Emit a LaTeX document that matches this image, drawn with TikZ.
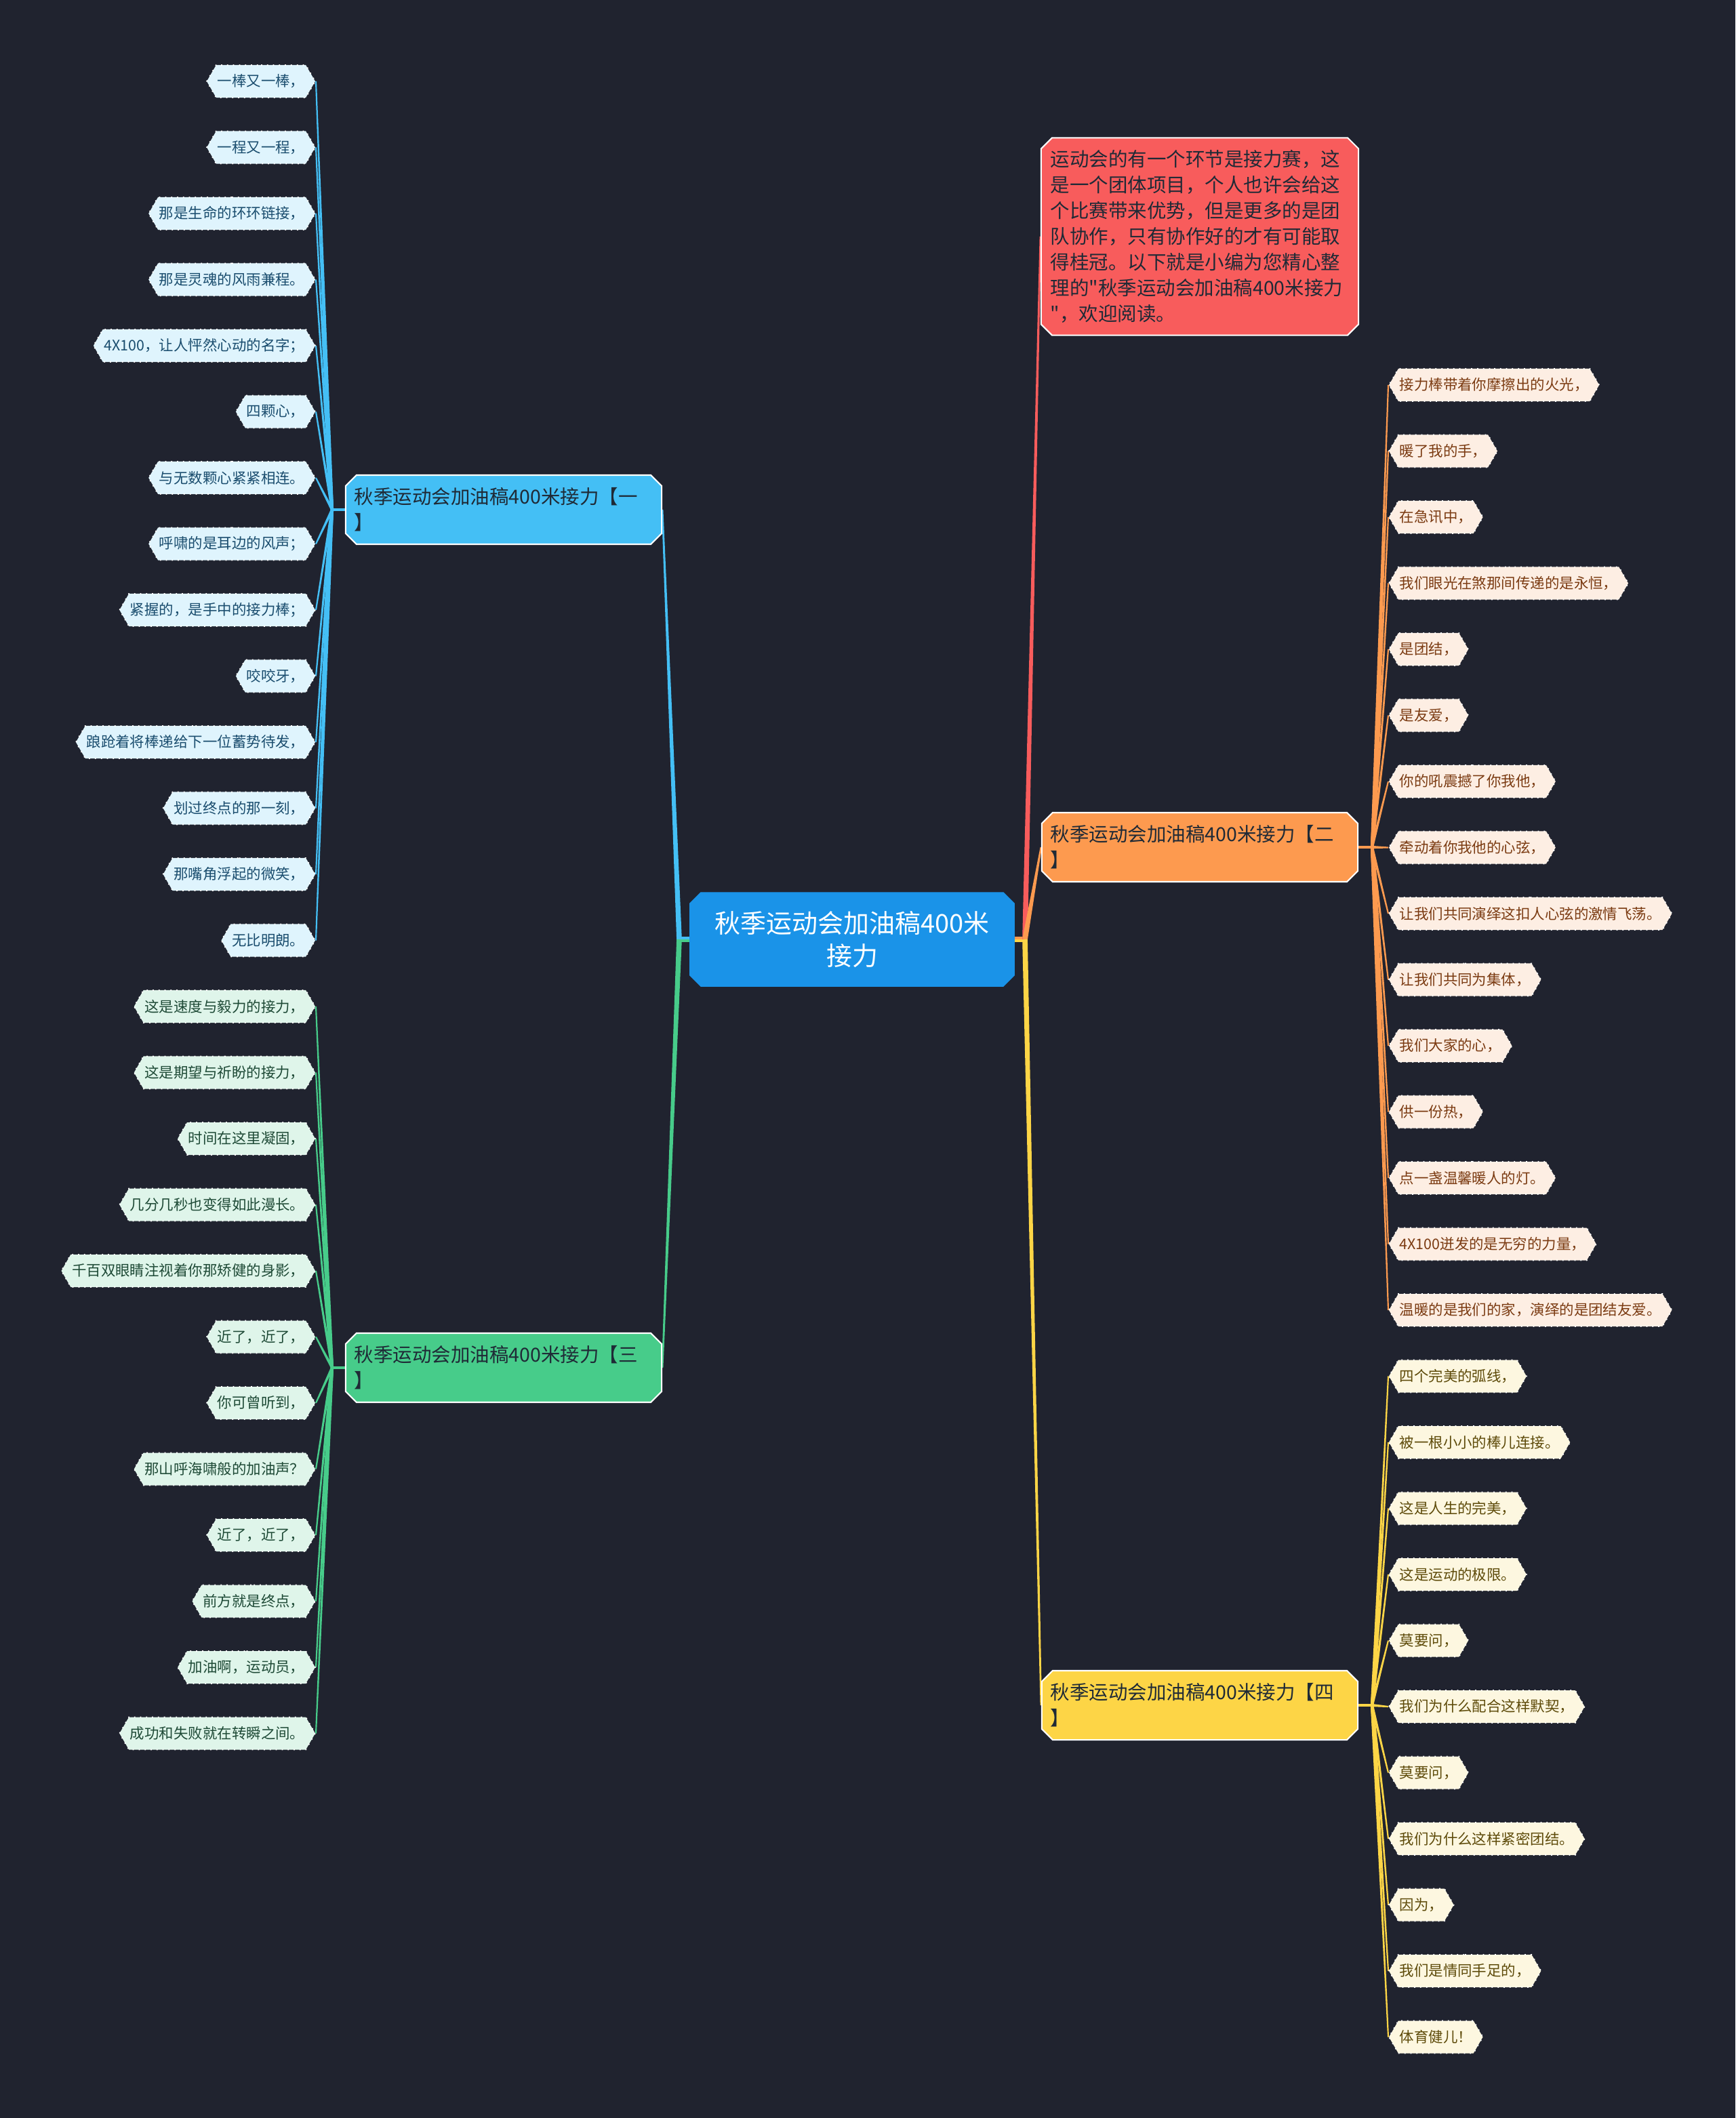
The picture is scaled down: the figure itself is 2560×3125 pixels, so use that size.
\documentclass[tikz,border=0pt]{standalone}
\usepackage{fontspec}
\setmainfont{Noto Sans CJK SC}[Ligatures=TeXOff]
\usetikzlibrary{shapes.misc,shapes.symbols,calc}
\definecolor{bgc}{HTML}{20232F}
\definecolor{rootc}{HTML}{1A93E8}
\definecolor{cblue}{HTML}{44BFF5}
\definecolor{cgreen}{HTML}{47CC8A}
\definecolor{corange}{HTML}{FD9A4F}
\definecolor{cyellow}{HTML}{FDD546}
\definecolor{cred}{HTML}{F85C5C}
\definecolor{lblue}{HTML}{DFF4FD}
\definecolor{lgreen}{HTML}{DFF5EA}
\definecolor{lorange}{HTML}{FDEEE3}
\definecolor{lyellow}{HTML}{FDF7E0}
\definecolor{tblue}{HTML}{1A4D6E}
\definecolor{tgreen}{HTML}{1E4A36}
\definecolor{torange}{HTML}{7B3B12}
\definecolor{tyellow}{HTML}{5E4B0A}
\definecolor{tdark}{HTML}{1F2A36}
\pgfdeclarelayer{bg}
\pgfdeclarelayer{conn}
\pgfsetlayers{bg,conn,main}
\newcommand\tconn[5]{%
  \fill[#1] ($(#2)!#4!90:(#3)$) -- ($(#3)!#5!-90:(#2)$) -- ($(#3)!#5!90:(#2)$) -- ($(#2)!#4!-90:(#3)$) -- cycle;}
\tikzset{
  leafbase/.style={signal, signal to=west and east, signal pointer angle=120,
    draw=white, dotted, line width=0.5pt, minimum height=0.48cm, inner xsep=0.5pt, inner ysep=0pt,
    font=\fontsize{6.1}{7}\selectfont},
  bleaf/.style={leafbase, fill=lblue, text=tblue, anchor=east},
  gleaf/.style={leafbase, fill=lgreen, text=tgreen, anchor=east},
  oleaf/.style={leafbase, fill=lorange, text=torange, anchor=west},
  yleaf/.style={leafbase, fill=lyellow, text=tyellow, anchor=west},
  branchbox/.style={chamfered rectangle, chamfered rectangle xsep=0.08cm, chamfered rectangle ysep=0.08cm,
    draw=white, line width=0.6pt, minimum width=4.66cm, minimum height=1.02cm, inner sep=0pt,
    text width=4.4cm, align=left, text=tdark, font=\fontsize{8.1}{10.8}\selectfont},
  rootbox/.style={chamfered rectangle, chamfered rectangle xsep=0.08cm, chamfered rectangle ysep=0.08cm,
    fill=rootc, draw=rootc, minimum width=4.78cm, minimum height=1.38cm, inner sep=0pt,
    align=center, text=white, font=\fontsize{10.8}{13.7}\selectfont},
}
\begin{document}
\begin{tikzpicture}[x=0.01cm,y=-0.01cm]
\useasboundingbox (0,0) rectangle (2560,3125);
\begin{pgfonlayer}{bg}
\fill[bgc] (0,0) rectangle (2560,3125);
\end{pgfonlayer}

% root and branches
\node[rootbox] (root) at (1257,1386) {秋季运动会加油稿400米\\接力};
\node[branchbox, fill=cblue] (b1) at (743,752) {秋季运动会加油稿400米接力【一\\】};
\node[branchbox, fill=cgreen] (b3) at (743,2018) {秋季运动会加油稿400米接力【三\\】};
\node[branchbox, fill=cred, minimum height=2.91cm, minimum width=4.68cm] (intro) at (1770,349)
  {运动会的有一个环节是接力赛，这\\是一个团体项目，个人也许会给这\\个比赛带来优势，但是更多的是团\\队协作，只有协作好的才有可能取\\得桂冠。以下就是小编为您精心整\\理的"秋季运动会加油稿400米接力\\"，欢迎阅读。};
\node[branchbox, fill=corange] (b2) at (1770,1250) {秋季运动会加油稿400米接力【二\\】};
\node[branchbox, fill=cyellow] (b4) at (1770,2516) {秋季运动会加油稿400米接力【四\\】};

\coordinate (rl) at (1002,1386);
\coordinate (rr) at (1512,1386);
\coordinate (f1) at (490,752);
\coordinate (f3) at (490,2018);
\coordinate (f2) at (2024,1250);
\coordinate (f4) at (2024,2516);

% leaves
\foreach \t [count=\i from 0] in {一棒又一棒，,一程又一程，,那是生命的环环链接，,那是灵魂的风雨兼程。,4X100，让人怦然心动的名字；,四颗心，,与无数颗心紧紧相连。,呼啸的是耳边的风声；,紧握的，是手中的接力棒；,咬咬牙，,踉跄着将棒递给下一位蓄势待发，,划过终点的那一刻，,那嘴角浮起的微笑，,无比明朗。}
  \node[bleaf] (la\i) at (466,{120+97.5*\i}) {\t};
\foreach \t [count=\i from 0] in {这是速度与毅力的接力，,这是期望与祈盼的接力，,时间在这里凝固，,几分几秒也变得如此漫长。,千百双眼睛注视着你那矫健的身影，,近了，近了，,你可曾听到，,那山呼海啸般的加油声？,近了，近了，,前方就是终点，,加油啊，运动员，,成功和失败就在转瞬之间。}
  \node[gleaf] (lc\i) at (466,{120+97.5*(\i+14)}) {\t};
\foreach \t [count=\i from 0] in {接力棒带着你摩擦出的火光，,暖了我的手，,在急讯中，,我们眼光在煞那间传递的是永恒，,是团结，,是友爱，,你的吼震撼了你我他，,牵动着你我他的心弦，,让我们共同演绎这扣人心弦的激情飞荡。,让我们共同为集体，,我们大家的心，,供一份热，,点一盏温馨暖人的灯。,4X100迸发的是无穷的力量，,温暖的是我们的家，演绎的是团结友爱。}
  \node[oleaf] (lb\i) at (2048,{568+97.5*\i}) {\t};
\foreach \t [count=\i from 0] in {四个完美的弧线，,被一根小小的棒儿连接。,这是人生的完美，,这是运动的极限。,莫要问，,我们为什么配合这样默契，,莫要问，,我们为什么这样紧密团结。,因为，,我们是情同手足的，,体育健儿！}
  \node[yleaf] (ld\i) at (2048,{568+97.5*(\i+15)}) {\t};

% connectors
\begin{pgfonlayer}{conn}
\tconn{cblue}{root.west}{rl}{1.1pt}{1.1pt}
\tconn{cgreen}{root.west}{rl}{1.1pt}{1.1pt}
\fill[cblue] (root.west) rectangle ($(rl)+(0,-4)$);
\tconn{corange}{root.east}{rr}{1.1pt}{1.1pt}
\fill[cyellow] (root.east) rectangle ($(rr)+(0,4)$);
\tconn{cblue}{rl}{b1.east}{1.1pt}{0.35pt}
\tconn{cgreen}{rl}{b3.east}{1.1pt}{0.35pt}
\tconn{cred}{rr}{intro.west}{1.1pt}{0.35pt}
\tconn{corange}{rr}{b2.west}{1.1pt}{0.35pt}
\tconn{cyellow}{rr}{b4.west}{1.1pt}{0.35pt}
\tconn{cblue}{b1.west}{f1}{0.55pt}{0.55pt}
\tconn{cgreen}{b3.west}{f3}{0.55pt}{0.55pt}
\tconn{corange}{b2.east}{f2}{0.55pt}{0.55pt}
\tconn{cyellow}{b4.east}{f4}{0.55pt}{0.55pt}
\foreach \i in {0,...,13} {\tconn{cblue}{f1}{la\i.east}{0.6pt}{0.3pt}}
\foreach \i in {0,...,11} {\tconn{cgreen}{f3}{lc\i.east}{0.6pt}{0.3pt}}
\foreach \i in {0,...,14} {\tconn{corange}{f2}{lb\i.west}{0.6pt}{0.3pt}}
\foreach \i in {0,...,10} {\tconn{cyellow}{f4}{ld\i.west}{0.6pt}{0.3pt}}
\end{pgfonlayer}
\end{tikzpicture}
\end{document}
